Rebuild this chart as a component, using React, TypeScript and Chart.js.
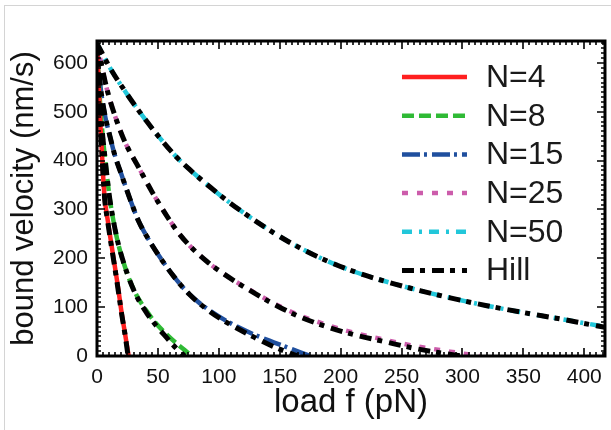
import React, { useEffect, useRef } from 'react';
import { Chart, registerables } from 'chart.js';

Chart.register(...registerables);

// ---------- data ----------
const seriesLabels = ['N=4', 'N=8', 'N=15', 'N=25', 'N=50'];
const hillLabel = 'Hill';

const xTickMax = 417;
const yTickMax = 645;

const n4Load = [0, 1, 2, 3, 4, 5, 6.5, 8.5, 11, 14.8, 17.5, 20, 23, 26];
const n4Vel = [640, 575, 515, 462, 418, 370, 318, 283, 242, 181, 137, 92, 46, 0];

const n8Load = [0, 1, 2.5, 4.5, 6.6, 8.5, 10.7, 14, 17.5, 22, 27, 33, 40.8, 48, 57, 67, 78];
const n8Vel = [640, 585, 520, 455, 405, 362, 318, 270, 229, 190, 154, 122, 92, 68, 44.5, 22, 0];

const n15Load = [0, 2.5, 6, 10.7, 15, 20, 27, 34, 42, 51.7, 63, 76, 92, 109, 127, 145, 160, 175];
const n15Vel = [640, 560, 500, 449, 408, 372, 322, 277, 240, 202, 163, 126, 94, 68, 46, 28, 14, 0];

const n25Load = [0, 8, 15, 23, 34, 45, 57, 66, 76, 90, 106.5, 125, 147.5, 166.7, 191, 212, 235, 260, 290, 314];
const n25Vel = [640, 548, 490, 438, 387, 337, 288, 255, 226, 194, 164, 136, 105, 83, 62, 47, 34, 21, 9, 0];

const n50Load = [0, 10.7, 25, 40, 51.7, 65, 76, 92.8, 110, 134, 158, 185, 212, 240.6, 265, 290, 320, 350, 380, 410, 417];
const n50Vel = [640, 590, 535, 483, 446, 408, 382, 346, 312, 270, 233, 199, 172, 150, 134, 119, 103, 89, 76, 63, 60];

const hill4Load = [0, 1, 2, 3, 4, 5, 6.5, 8.5, 11, 14.8, 17.5, 20, 23, 25.5];
const hill4Vel = [640, 572, 512, 460, 415, 368, 316, 280, 238, 178, 133, 90, 44, 0];

const hill8Load = [0, 1, 2.5, 4.5, 6.6, 8.5, 10.7, 14, 17.5, 22, 27, 33, 40.8, 48, 57, 65, 72];
const hill8Vel = [640, 585, 520, 455, 405, 362, 318, 270, 229, 190, 154, 120, 88, 64, 38, 16, 0];

const hill15Load = [0, 2.5, 6, 10.7, 15, 20, 27, 34, 42, 51.7, 63, 76, 92, 109, 127, 145, 165];
const hill15Vel = [640, 560, 500, 449, 408, 372, 322, 277, 240, 202, 163, 126, 92, 65, 41, 19, 0];

const hill25Load = [0, 8, 15, 23, 34, 45, 57, 66, 76, 90, 106.5, 125, 147.5, 166.7, 191, 212, 235, 260, 280, 300];
const hill25Vel = [640, 548, 490, 438, 387, 337, 288, 255, 226, 194, 164, 135, 103, 80, 58, 43, 30, 16, 7, 0];

const hill50Load = [0, 10.7, 25, 40, 51.7, 65, 76, 92.8, 110, 134, 158, 185, 212, 240.6, 265, 290, 320, 350, 380, 410, 417];
const hill50Vel = [640, 590, 535, 483, 446, 408, 382, 346, 312, 270, 233, 199, 172, 150, 134, 119, 103, 89, 76, 62, 59];

// ---------- styles ----------
const seriesColors = ['#ff1f1f', '#2fba35', '#1f4f9e', '#cc5cab', '#22c7da'];
const seriesDashes: number[][] = [[], [12, 5], [18, 4, 3, 5], [6, 9], [10, 7, 3, 7]];
const hillDash = [12, 6, 5, 7];
const FONT = '"Liberation Sans", Arial, sans-serif';

const pts = (xs: number[], ys: number[]) => xs.map((x, i) => ({ x, y: ys[i] }));

const frameAndLegend = {
  id: 'frameAndLegend',
  afterDraw(chart: any) {
    const { ctx, chartArea: a, scales } = chart;
    const xs = scales.x;
    const ys = scales.y;
    ctx.save();
    ctx.strokeStyle = '#000';
    ctx.setLineDash([]);
    ctx.lineWidth = 1.6;
    ctx.beginPath();
    for (let v = 0; v <= xTickMax; v += 5) {
      const px = Math.round(xs.getPixelForValue(v));
      const len = v % 50 === 0 ? 8 : 4;
      ctx.moveTo(px, a.bottom);
      ctx.lineTo(px, a.bottom - len);
      ctx.moveTo(px, a.top);
      ctx.lineTo(px, a.top + len);
    }
    for (let v = 0; v <= yTickMax; v += 10) {
      const py = Math.round(ys.getPixelForValue(v));
      const len = v % 100 === 0 ? 8 : 4;
      ctx.moveTo(a.left, py);
      ctx.lineTo(a.left + len, py);
      ctx.moveTo(a.right, py);
      ctx.lineTo(a.right - len, py);
    }
    ctx.stroke();
    ctx.lineWidth = 3;
    ctx.strokeRect(a.left, a.top, a.right - a.left, a.bottom - a.top);

    // legend
    const labels = [...seriesLabels, hillLabel];
    const colors = [...seriesColors, '#000'];
    const dashes = [...seriesDashes, hillDash];
    const x0 = a.right - 203;
    ctx.font = `32px ${FONT}`;
    ctx.textBaseline = 'middle';
    ctx.textAlign = 'left';
    labels.forEach((lab, i) => {
      const y = a.top + 36 + i * 38.7;
      ctx.strokeStyle = colors[i];
      ctx.lineWidth = i === 5 ? 5 : 4.5;
      ctx.lineCap = 'butt';
      ctx.setLineDash(dashes[i]);
      ctx.beginPath();
      ctx.moveTo(x0, y);
      ctx.lineTo(x0 + 65, y);
      ctx.stroke();
      ctx.setLineDash([]);
      ctx.fillStyle = '#1a1a1a';
      ctx.fillText(lab, x0 + 84, y + 1);
    });
    ctx.restore();
  },
};

export default function App() {
  const canvasRef = useRef<HTMLCanvasElement>(null);

  useEffect(() => {
    const canvas = canvasRef.current;
    if (!canvas) return;
    const seriesData = [
      pts(n4Load, n4Vel),
      pts(n8Load, n8Vel),
      pts(n15Load, n15Vel),
      pts(n25Load, n25Vel),
      pts(n50Load, n50Vel),
    ];
    const hillData = [
      pts(hill4Load, hill4Vel),
      pts(hill8Load, hill8Vel),
      pts(hill15Load, hill15Vel),
      pts(hill25Load, hill25Vel),
      pts(hill50Load, hill50Vel),
    ];
    const datasets: any[] = [];
    seriesData.forEach((d, i) => {
      datasets.push({
        label: seriesLabels[i],
        data: d,
        borderColor: seriesColors[i],
        borderDash: seriesDashes[i],
        borderWidth: 4.5,
        pointRadius: 0,
        fill: false,
        cubicInterpolationMode: 'monotone',
        order: 2,
      });
    });
    hillData.forEach((d, i) => {
      datasets.push({
        label: hillLabel + ' ' + seriesLabels[i],
        data: d,
        borderColor: '#000',
        borderDash: hillDash,
        borderWidth: 5,
        pointRadius: 0,
        fill: false,
        cubicInterpolationMode: 'monotone',
        order: 1,
      });
    });

    const chart = new Chart(canvas, {
      type: 'line',
      data: { datasets },
      plugins: [frameAndLegend],
      options: {
        animation: false,
        responsive: true,
        maintainAspectRatio: false,
        layout: { padding: { left: 0, top: 41, right: 5, bottom: 0 } },
        plugins: { legend: { display: false }, tooltip: { enabled: false } },
        scales: {
          x: {
            type: 'linear',
            min: 0,
            max: xTickMax,
            grid: { display: false, drawTicks: false },
            border: { display: false },
            ticks: {
              stepSize: 50,
              includeBounds: false,
              maxRotation: 0,
              autoSkip: false,
              padding: 9,
              color: '#111',
              font: { family: FONT, size: 21 },
            },
            title: {
              display: true,
              text: 'load f (pN)',
              color: '#111',
              font: { family: FONT, size: 33 },
              padding: { top: 0, bottom: 7 },
            },
            afterFit: (s: any) => {
              s.height = 74;
            },
          },
          y: {
            type: 'linear',
            min: 0,
            max: yTickMax,
            grid: { display: false, drawTicks: false },
            border: { display: false },
            ticks: {
              stepSize: 100,
              includeBounds: false,
              autoSkip: false,
              padding: 9,
              color: '#111',
              font: { family: FONT, size: 21 },
            },
            title: {
              display: true,
              text: 'bound velocity (nm/s)',
              color: '#111',
              font: { family: FONT, size: 31 },
              padding: { top: 6, bottom: 0 },
            },
            afterFit: (s: any) => {
              s.width = 97;
            },
          },
        },
      },
    });
    return () => chart.destroy();
  }, []);

  return (
    <div style={{ position: 'fixed', left: 0, top: 0, width: 611, height: 430, background: '#fff' }}>
      <div
        style={{
          position: 'absolute',
          left: 4,
          top: 5,
          right: 0,
          bottom: 0,
          borderLeft: '1px solid #d4d4d4',
          borderTop: '1px solid #d4d4d4',
        }}
      />
      <canvas ref={canvasRef} style={{ position: 'absolute', left: 0, top: 0, width: 611, height: 430 }} />
    </div>
  );
}
